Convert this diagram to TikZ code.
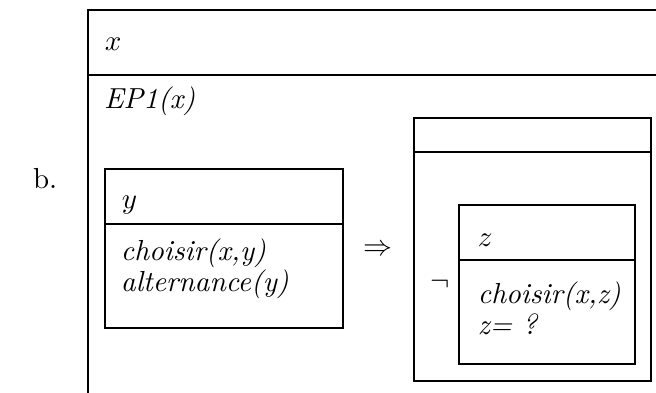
\documentclass[tikz,border=0pt]{standalone}
\usepackage{amsmath,amssymb}
\usetikzlibrary{positioning}
\tikzset{
  drsline/.style={draw=black,line width=.4pt},
  drstext/.style={inner sep=0pt,outer sep=0pt,anchor=base west,font=\normalsize},
  drsop/.style={inner sep=0pt,outer sep=0pt,font=\normalsize}
}
\begin{document}
\begin{tikzpicture}[x=0.345pt,y=-0.345pt]
        \clip (0,0) rectangle (656,392);
        %-----------------------------------------------
        % Outer box (runs past the page)
        \draw[drsline] (88,420)--(88,10)--(700,10);
        \draw[drsline] (88,75)--(700,75);
        \node[drstext] (x) at (105,50) {$x$};
        \node[drstext] (EP) at (104,108) {\textit{EP1(x)}};
        \node[drstext] (lbl) at (33,188) {b.};
        %-----------------------------------------------
        % Antecedent box
        \draw[drsline] (105,169) rectangle (343,328);
        \draw[drsline] (105,224)--(343,224);
        \node[drstext] (y) at (122,208) {$y$};
        \node[drstext] (c1) at (121,260) {\textit{choisir(x,y)}};
        \node[drstext] (c2) at (121,291) {\textit{alternance(y)}};
        %-----------------------------------------------
        \node[drsop] (imp) at (378,250) {$\Rightarrow$};
        %-----------------------------------------------
        % Consequent box
        \draw[drsline] (414,118) rectangle (651,381);
        \draw[drsline] (414,152)--(651,152);
        \node[drsop] (neg) at (440,284) {$\neg$};
        %-----------------------------------------------
        % Negated box
        \draw[drsline] (459,205) rectangle (635,364);
        \draw[drsline] (459,260)--(635,260);
        \node[drstext] (z) at (478,246) {$z$};
        \node[drstext] (c3) at (478,303) {\textit{choisir(x,z)}};
        \node[drstext] (c4) at (478,334) {\textit{z= ?}};
\end{tikzpicture}
\end{document}
